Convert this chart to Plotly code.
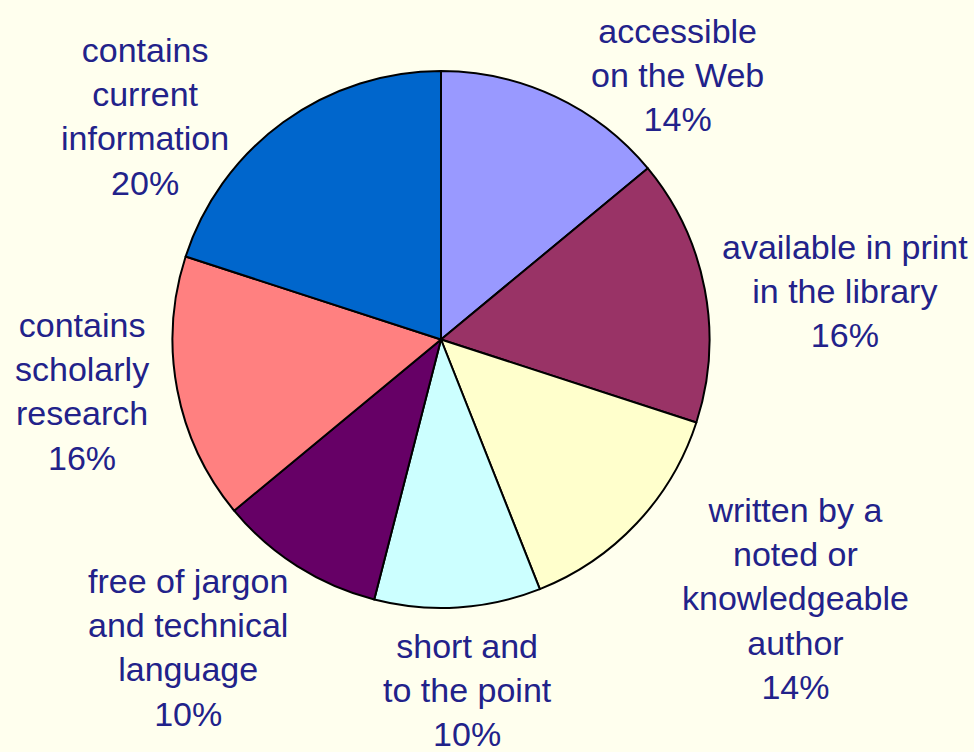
import plotly.graph_objects as go

categories = [
    "accessible<br>on the Web",
    "available in print<br>in the library",
    "written by a<br>noted or<br>knowledgeable<br>author",
    "short and<br>to the point",
    "free of jargon<br>and technical<br>language",
    "contains<br>scholarly<br>research",
    "contains<br>current<br>information",
]
percents = [14, 16, 14, 10, 10, 16, 20]
colors = ["#9999FF", "#993366", "#FFFFCC", "#CCFFFF", "#660066", "#FF8080", "#0066CC"]

# label centre positions in pixels (layout only)
label_px = [(677, 75), (845, 291), (795, 598), (467, 690), (188, 647), (82, 391), (145, 116)]

W, H = 974, 752
cx, cy, r = 441, 339.5, 268.5
BG = "#FFFFEE"

fig = go.Figure()
fig.add_trace(go.Pie(
    labels=[c.replace("<br>", " ") for c in categories],
    values=percents,
    sort=False,
    direction="clockwise",
    rotation=0,
    textinfo="none",
    hoverinfo="label+percent",
    marker=dict(colors=colors, line=dict(color="#000000", width=2)),
    domain=dict(x=[(cx - r) / W, (cx + r) / W], y=[1 - (cy + r) / H, 1 - (cy - r) / H]),
    showlegend=False,
))

for cat, p, (x, y) in zip(categories, percents, label_px):
    fig.add_annotation(
        x=x / W, y=1 - y / H, xref="paper", yref="paper",
        text=f"{cat}<br>{p}%", showarrow=False,
        xanchor="center", yanchor="middle", align="center",
        font=dict(family="Liberation Sans, Arial, sans-serif", size=34, color="#22228A"),
    )

fig.update_layout(
    width=W, height=H,
    margin=dict(l=0, r=0, t=0, b=0),
    paper_bgcolor=BG,
    plot_bgcolor=BG,
)
fig.write_html(
    "out.html",
    config={"displayModeBar": False},
    post_script=f"document.body.style.margin='0';document.body.style.overflow='hidden';document.body.style.background='{BG}';",
)
